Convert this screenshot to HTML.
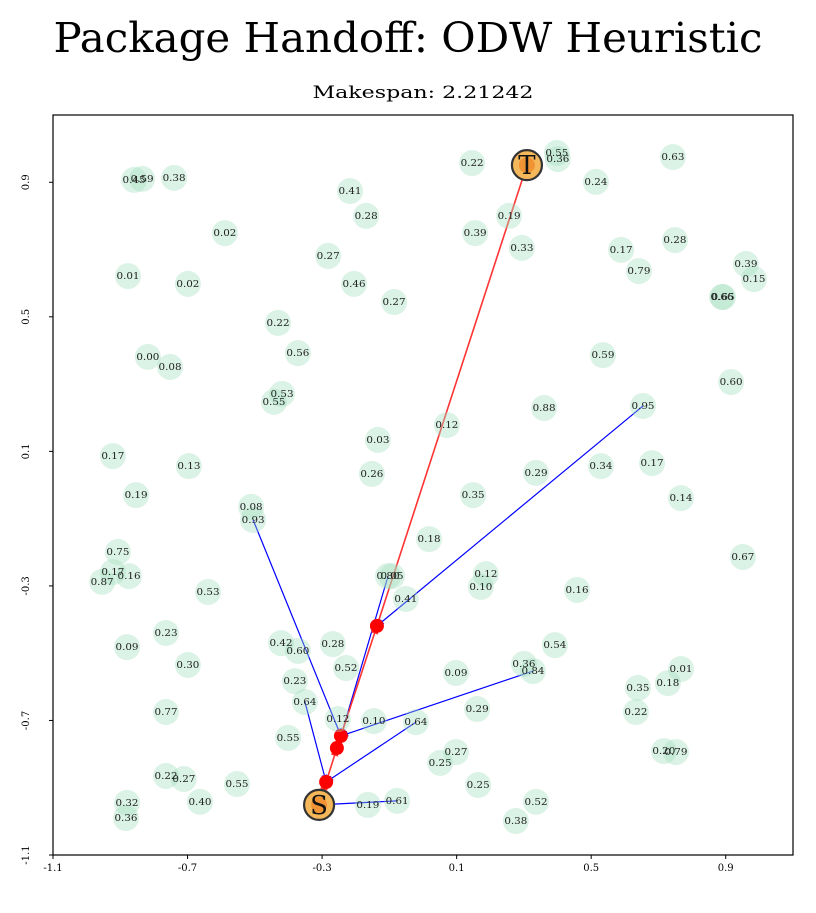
<!DOCTYPE html>
<html><head><meta charset="utf-8"><style>
body{margin:0;background:#fff;}
svg text{font-family:"DejaVu Serif","Liberation Serif",serif;}
</style></head><body>
<svg id="chart" width="816" height="908" xmlns="http://www.w3.org/2000/svg">
<text x="408" y="52" text-anchor="middle" font-size="41" textLength="709" lengthAdjust="spacingAndGlyphs">Package Handoff: ODW Heuristic</text>
<text x="423" y="98" text-anchor="middle" font-size="17" textLength="221" lengthAdjust="spacingAndGlyphs">Makespan: 2.21242</text>
<defs>
<marker id="ab" viewBox="0 0 10 10" refX="10" refY="5" markerWidth="6" markerHeight="6" orient="auto"><path d="M0,1 L10,5 L0,9 z" fill="blue"/></marker>
<marker id="ar" viewBox="0 0 10 10" refX="10" refY="5" markerWidth="5" markerHeight="5" orient="auto"><path d="M0,0 L10,5 L0,10 z" fill="#f33"/></marker>
</defs>
<g id="plot"></g>
</svg>
<script>
const nodeX=[-0.859,-0.835,-0.740,-0.217,-0.169,-0.589,-0.282,-0.877,-0.699,-0.205,-0.086,-0.431,-0.372,-0.818,-0.752,-0.419,-0.443,-0.134,-0.922,-0.696,-0.152,0.146,0.398,0.401,0.743,0.514,0.256,0.155,0.294,0.589,0.749,0.642,0.960,0.984,0.892,0.889,0.535,0.916,0.360,0.654,0.071,0.336,0.529,0.681,-0.853,-0.511,-0.505,-0.907,-0.922,-0.874,-0.954,-0.639,-0.104,-0.092,-0.051,0.018,-0.764,-0.880,-0.699,-0.422,-0.372,-0.268,-0.229,-0.381,-0.351,-0.764,-0.253,-0.146,-0.401,-0.764,-0.711,-0.553,-0.880,-0.663,-0.883,-0.164,-0.077,0.149,0.767,0.951,0.187,0.172,0.458,0.392,0.098,0.300,0.327,0.767,0.728,0.639,0.633,0.161,-0.021,0.098,0.051,0.164,0.716,0.752,0.336,0.276];
const nodeY=[0.907,0.910,0.913,0.874,0.800,0.749,0.681,0.621,0.598,0.598,0.544,0.482,0.392,0.381,0.351,0.271,0.247,0.134,0.086,0.056,0.033,0.957,0.987,0.969,0.975,0.901,0.800,0.749,0.705,0.699,0.728,0.636,0.657,0.612,0.559,0.559,0.386,0.306,0.229,0.235,0.178,0.036,0.056,0.065,-0.030,-0.065,-0.104,-0.199,-0.259,-0.271,-0.288,-0.318,-0.271,-0.271,-0.339,-0.161,-0.440,-0.482,-0.535,-0.470,-0.493,-0.473,-0.544,-0.583,-0.645,-0.675,-0.696,-0.702,-0.752,-0.865,-0.874,-0.889,-0.945,-0.942,-0.990,-0.951,-0.939,-0.030,-0.039,-0.214,-0.265,-0.303,-0.312,-0.476,-0.559,-0.532,-0.553,-0.547,-0.589,-0.603,-0.675,-0.666,-0.705,-0.794,-0.826,-0.892,-0.791,-0.794,-0.942,-0.999];
const nodeLabels=["0.45","0.59","0.38","0.41","0.28","0.02","0.27","0.01","0.02","0.46","0.27","0.22","0.56","0.00","0.08","0.53","0.55","0.03","0.17","0.13","0.26","0.22","0.55","0.36","0.63","0.24","0.19","0.39","0.33","0.17","0.28","0.79","0.39","0.15","0.65","0.66","0.59","0.60","0.88","0.95","0.12","0.29","0.34","0.17","0.19","0.08","0.93","0.75","0.17","0.16","0.87","0.53","0.80","0.05","0.41","0.18","0.23","0.09","0.30","0.42","0.60","0.28","0.52","0.23","0.64","0.77","0.12","0.10","0.55","0.22","0.27","0.55","0.32","0.40","0.36","0.19","0.61","0.35","0.14","0.67","0.12","0.10","0.16","0.54","0.09","0.36","0.84","0.01","0.18","0.35","0.22","0.29","0.64","0.27","0.25","0.25","0.20","0.79","0.52","0.38"];
const routeX=[-0.309,-0.288,-0.256,-0.244,-0.137,0.309];
const routeY=[-0.951,-0.883,-0.782,-0.746,-0.419,0.951];
const handFromX=[-0.505,-0.104,0.327,-0.351,-0.021,0.654,-0.077];
const handFromY=[-0.104,-0.271,-0.553,-0.645,-0.705,0.235,-0.939];
const handToX=[-0.244,-0.244,-0.244,-0.288,-0.288,-0.137,-0.309];
const handToY=[-0.746,-0.746,-0.746,-0.883,-0.883,-0.419,-0.951];
const tickVals=[-1.1,-0.7,-0.3,0.1,0.5,0.9];
const tickLabels=["-1.1","-0.7","-0.3","0.1","0.5","0.9"];

const L=53,T=115,W=740,H=740,min=-1.1,max=1.1;
const sx=v=>L+(v-min)/(max-min)*W;
const sy=v=>T+(max-v)/(max-min)*H;
const NS="http://www.w3.org/2000/svg";
const g=document.getElementById('plot');
function mk(tag,attrs,parent){const e=document.createElementNS(NS,tag);for(const k in attrs)e.setAttribute(k,attrs[k]);(parent||g).appendChild(e);return e;}

const frame=mk('rect',{x:L,y:T,width:W,height:H,fill:'none',stroke:'#000','stroke-width':1.2});


tickVals.forEach((v,i)=>{
  const xt=mk('line',{x1:sx(v),x2:sx(v),y1:T+H,y2:T+H+4,stroke:'#000'});
  
  
  const xl=mk('text',{x:sx(v),y:T+H+16,'text-anchor':'middle','font-size':10});
  xl.textContent=tickLabels[i];
  
  
  const yt=mk('line',{x1:L-4,x2:L,y1:sy(v),y2:sy(v),stroke:'#000'});
  
  
  const yl=mk('text',{x:0,y:0,'text-anchor':'middle','font-size':10,transform:`translate(${L-24},${sy(v)}) rotate(-90)`});
  yl.textContent=tickLabels[i];
  
  
});
for(let i=0;i<handFromX.length;i++){
  const ln=mk('line',{x1:sx(handFromX[i]),y1:sy(handFromY[i]),x2:sx(handToX[i]),y2:sy(handToY[i]),stroke:'blue','stroke-width':1.2,'marker-end':'url(#ab)'});
  
  
}
for(let i=0;i<routeX.length-1;i++){
  const ln=mk('line',{x1:sx(routeX[i]),y1:sy(routeY[i]),x2:sx(routeX[i+1]),y2:sy(routeY[i+1]),stroke:'#f33','stroke-width':1.6,'marker-end':'url(#ar)'});
  
  
}
for(let i=1;i<routeX.length-1;i++){
  const c=mk('circle',{cx:sx(routeX[i]),cy:sy(routeY[i]),r:7,fill:'red'});
  
  
}
for(let i=0;i<nodeX.length;i++){
  const c=mk('circle',{cx:sx(nodeX[i]),cy:sy(nodeY[i]),r:13,fill:'rgb(160,222,190)','fill-opacity':0.38});
  
  
}
for(let i=0;i<nodeX.length;i++){
  const t=mk('text',{x:sx(nodeX[i]),y:sy(nodeY[i])+3,'text-anchor':'middle','font-size':9.5,fill:'#222',textLength:23,lengthAdjust:'spacingAndGlyphs'});
  t.textContent=nodeLabels[i];
  
  
}
[[0,'S','start-node'],[routeX.length-1,'T','target-node']].forEach(([i,lab,nm])=>{
  const c=mk('circle',{cx:sx(routeX[i]),cy:sy(routeY[i]),r:15,fill:'#f4b75a',stroke:'#333','stroke-width':2.2});
  
  
  const inner=mk('circle',{cx:sx(routeX[i]),cy:sy(routeY[i]),r:8,fill:'#ee8a2a','fill-opacity':0.8});
  
  
  const t=mk('text',{x:sx(routeX[i]),y:sy(routeY[i])+9,'text-anchor':'middle','font-size':26,fill:'#111'});
  t.textContent=lab;
  
  
});
</script>
</body></html>
